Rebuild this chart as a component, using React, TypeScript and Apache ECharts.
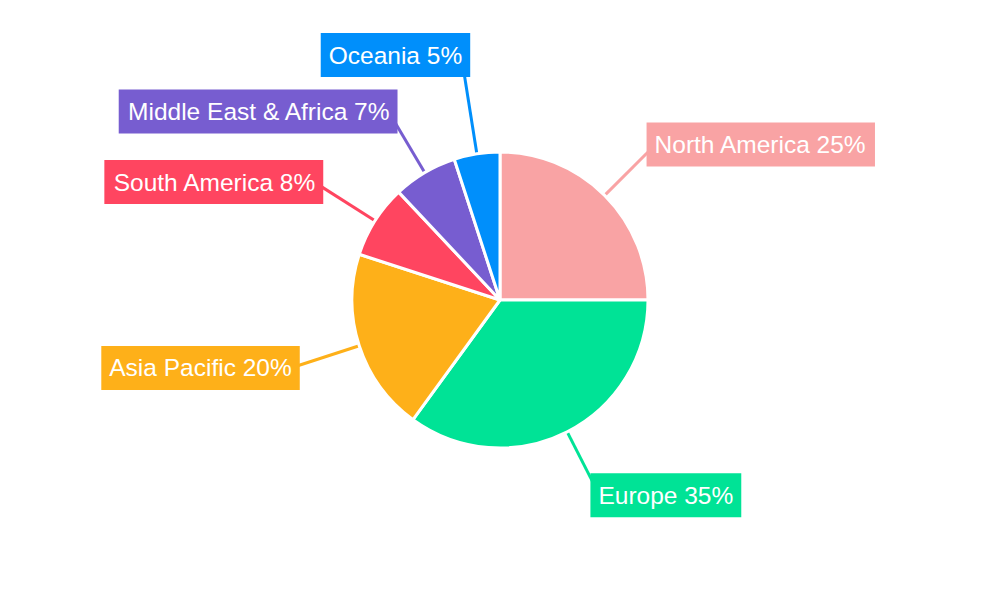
import React, { useEffect, useRef } from "react";
import * as echarts from "echarts";

const regions = ["North America", "Europe", "Asia Pacific", "South America", "Middle East & Africa", "Oceania"];
const shares = [25, 35, 20, 8, 7, 5];
const colors = ["#F9A3A4", "#00E396", "#FEB019", "#FF4560", "#775DD0", "#008FFB"];
const leaderLengths = [72, 71, 72, 72, 71, 100];

export default function App() {
  const ref = useRef<HTMLDivElement>(null);
  useEffect(() => {
    document.body.style.margin = "0";
    const chart = echarts.init(ref.current!, undefined, { renderer: "svg" });
    chart.setOption({
      animation: false,
      backgroundColor: "#ffffff",
      color: colors,
      series: [
        {
          type: "pie",
          center: ["50%", "50%"],
          radius: 148,
          startAngle: 90,
          clockwise: true,
          avoidLabelOverlap: false,
          data: regions.map((name, i) => ({
            name,
            value: shares[i],
            labelLine: { length: leaderLengths[i] },
          })),
          itemStyle: { borderColor: "#ffffff", borderWidth: 3 },
          label: {
            show: true,
            position: "outside",
            formatter: "{b} {c}%",
            color: "#ffffff",
            fontSize: 24.5,
            fontFamily: "Liberation Sans, Arial, sans-serif",
            backgroundColor: "inherit",
            padding: [10, 8],
            lineHeight: 24,
            distanceToLabelLine: -9,
          },
          labelLine: {
            show: true,
            length: 72,
            length2: 0,
            lineStyle: { width: 3 },
          },
        },
      ],
    });
    return () => chart.dispose();
  }, []);
  return <div ref={ref} style={{ width: 1000, height: 600 }} />;
}
